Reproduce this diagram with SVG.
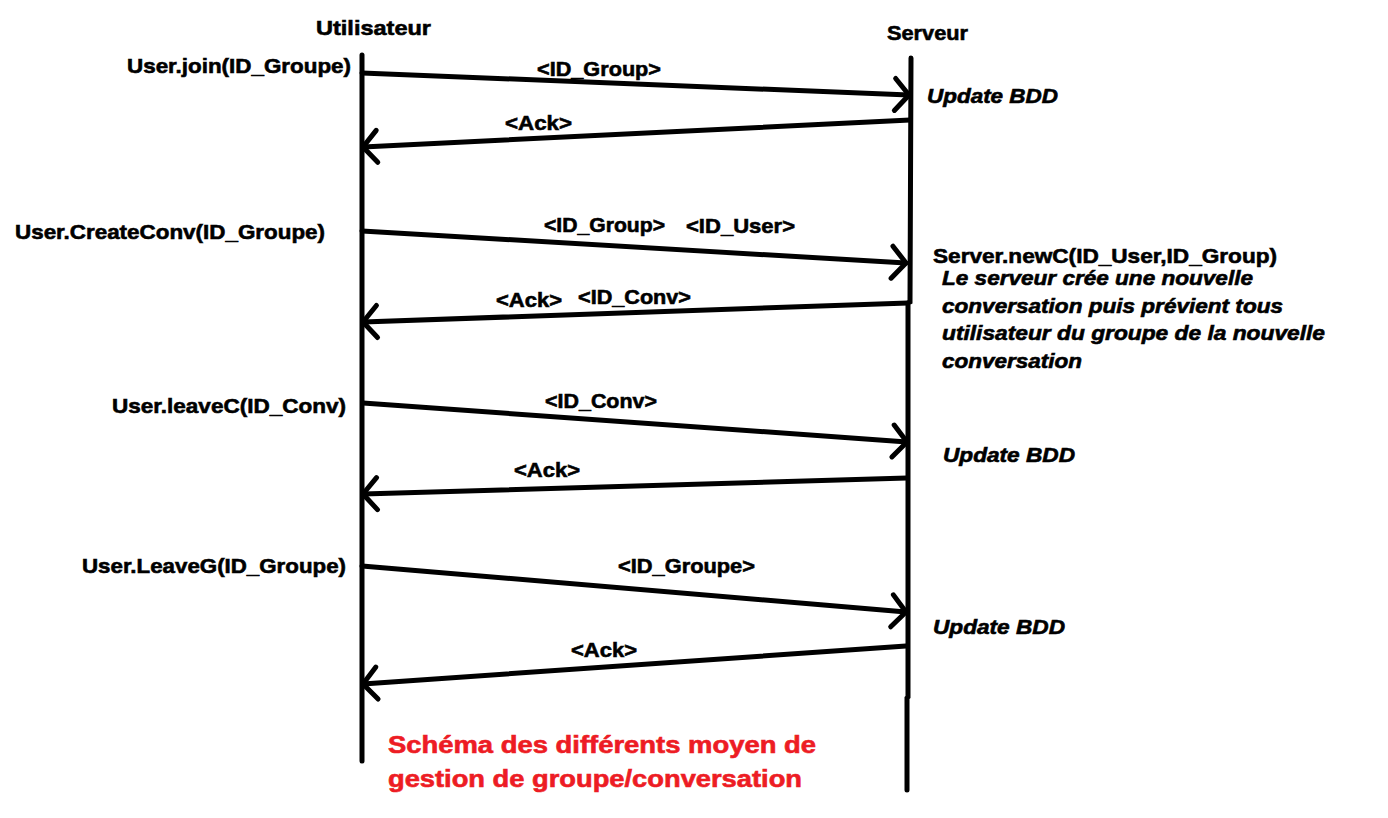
<svg xmlns="http://www.w3.org/2000/svg" width="1388" height="818" viewBox="0 0 1388 818">
<style>
  .lbl { font-family: "Liberation Sans", Arial, sans-serif; font-weight: bold; font-size: 21px; fill: #000; stroke: #000; stroke-width: 0.6; }
  .note { font-family: "Liberation Sans", Arial, sans-serif; font-weight: bold; font-style: italic; font-size: 20px; fill: #000; stroke: #000; stroke-width: 0.6; }
  .title { font-family: "Liberation Sans", Arial, sans-serif; font-weight: bold; font-size: 23px; fill: #ED1C24; stroke: #ED1C24; stroke-width: 0.6; }
  .life { stroke: #000; stroke-width: 5; fill: none; stroke-linecap: round; }
  .msg { stroke: #000; stroke-width: 5; fill: none; stroke-linecap: round; marker-end: url(#open); }
</style>
<defs>
  <marker id="open" markerUnits="userSpaceOnUse" markerWidth="40" markerHeight="40" viewBox="-20 -20 40 40" refX="0" refY="0" orient="auto">
    <path d="M-14,-16 L0,0 L-14,16" fill="none" stroke="#000" stroke-width="5" stroke-linecap="round" stroke-linejoin="round"/>
  </marker>
</defs>
<rect width="1388" height="818" fill="#fff"/>

<g id="utilisateur">
  <text class="lbl" x="316" y="35" textLength="115" lengthAdjust="spacingAndGlyphs">Utilisateur</text>
  <path class="life" d="M362,55 L362,761"/>
</g>
<g id="serveur">
  <text class="lbl" x="887" y="40" textLength="81" lengthAdjust="spacingAndGlyphs">Serveur</text>
  <path class="life" d="M911,58 L910,302 L908,303 L908,697 L907,698 L907,790"/>
</g>

<g id="actions-utilisateur">
  <text class="lbl" x="127" y="73" textLength="224" lengthAdjust="spacingAndGlyphs">User.join(ID_Groupe)</text>
  <text class="lbl" x="15" y="239" textLength="310" lengthAdjust="spacingAndGlyphs">User.CreateConv(ID_Groupe)</text>
  <text class="lbl" x="112" y="413" textLength="234" lengthAdjust="spacingAndGlyphs">User.leaveC(ID_Conv)</text>
  <text class="lbl" x="82" y="573" textLength="264" lengthAdjust="spacingAndGlyphs">User.LeaveG(ID_Groupe)</text>
</g>

<g id="actions-serveur">
  <text class="note" x="927" y="103" textLength="131" lengthAdjust="spacingAndGlyphs">Update BDD</text>
  <text class="lbl" x="933" y="263" textLength="344" lengthAdjust="spacingAndGlyphs">Server.newC(ID_User,ID_Group)</text>
  <text class="note" x="942" y="285" textLength="311" lengthAdjust="spacingAndGlyphs">Le serveur crée une nouvelle</text>
  <text class="note" x="942" y="313" textLength="341" lengthAdjust="spacingAndGlyphs">conversation puis prévient tous</text>
  <text class="note" x="942" y="340" textLength="383" lengthAdjust="spacingAndGlyphs">utilisateur du groupe de la nouvelle</text>
  <text class="note" x="942" y="368" textLength="140" lengthAdjust="spacingAndGlyphs">conversation</text>
  <text class="note" x="943" y="462" textLength="132" lengthAdjust="spacingAndGlyphs">Update BDD</text>
  <text class="note" x="933" y="634" textLength="132" lengthAdjust="spacingAndGlyphs">Update BDD</text>
</g>

<g id="connecteurs">
  <path class="msg" d="M362,73 L909,95"/>
  <path class="msg" d="M910,120 L363,147"/>
  <path class="msg" d="M362,231 L906,263"/>
  <path class="msg" d="M908,303 L363,322"/>
  <path class="msg" d="M363,403 L907,442"/>
  <path class="msg" d="M907,478 L363,494"/>
  <path class="msg" d="M362,566 L906,612"/>
  <path class="msg" d="M906,646 L363,684"/>
</g>

<g id="labels-messages">
  <text class="lbl" x="537" y="76" textLength="124" lengthAdjust="spacingAndGlyphs">&lt;ID_Group&gt;</text>
  <text class="lbl" x="505" y="130" textLength="67" lengthAdjust="spacingAndGlyphs">&lt;Ack&gt;</text>
  <text class="lbl" x="544" y="232" textLength="121" lengthAdjust="spacingAndGlyphs">&lt;ID_Group&gt;</text>
  <text class="lbl" x="686" y="233" textLength="109" lengthAdjust="spacingAndGlyphs">&lt;ID_User&gt;</text>
  <text class="lbl" x="496" y="307" textLength="66" lengthAdjust="spacingAndGlyphs">&lt;Ack&gt;</text>
  <text class="lbl" x="578" y="304" textLength="113" lengthAdjust="spacingAndGlyphs">&lt;ID_Conv&gt;</text>
  <text class="lbl" x="545" y="408" textLength="112" lengthAdjust="spacingAndGlyphs">&lt;ID_Conv&gt;</text>
  <text class="lbl" x="514" y="477" textLength="66" lengthAdjust="spacingAndGlyphs">&lt;Ack&gt;</text>
  <text class="lbl" x="618" y="573" textLength="137" lengthAdjust="spacingAndGlyphs">&lt;ID_Groupe&gt;</text>
  <text class="lbl" x="571" y="657" textLength="66" lengthAdjust="spacingAndGlyphs">&lt;Ack&gt;</text>
</g>

<g id="titre">
  <text class="title" x="388" y="753" textLength="428" lengthAdjust="spacingAndGlyphs">Schéma des différents moyen de</text>
  <text class="title" x="388" y="787" textLength="414" lengthAdjust="spacingAndGlyphs">gestion de groupe/conversation</text>
</g>
</svg>
